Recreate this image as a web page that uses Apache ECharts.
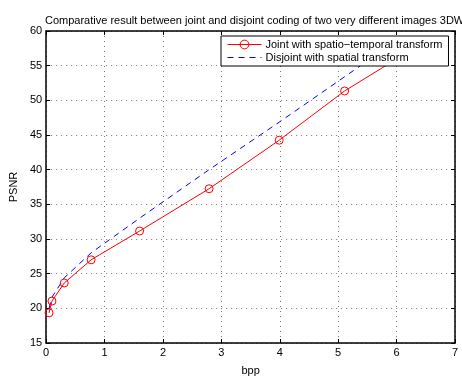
<!DOCTYPE html>
<html>
<head>
<meta charset="utf-8">
<script src="https://cdn.jsdelivr.net/npm/echarts@6/dist/echarts.min.js"></script>
<style>
  html, body { margin: 0; padding: 0; background: #fff; }
  #main { width: 462px; height: 381px; }
</style>
</head>
<body>
<div id="main"></div>
<script>
// values
let bppJoint = [0.05, 0.1, 0.31, 0.77, 1.6, 2.79, 3.99, 5.11, 6.2];
let psnrJoint = [19.35, 21.05, 23.65, 27.0, 31.15, 37.25, 44.25, 51.35, 57.0];
let bppDisjoint = [0.05, 0.1, 0.31, 0.77, 1.6, 2.79, 3.99, 5.11, 6.1];
let psnrDisjoint = [20.0, 21.6, 24.4, 28.0, 33.0, 40.0, 46.85, 53.4, 59.2];
let xTicks = [0, 1, 2, 3, 4, 5, 6, 7];
let yTicks = [15, 20, 25, 30, 35, 40, 45, 50, 55, 60];
let names = ["Joint with spatio\u2212temporal transform", "Disjoint with spatial transform"];

const font = "Liberation Sans, Arial, Helvetica, sans-serif";
let myChart = echarts.init(document.getElementById("main"));

const pairs = (xs, ys) => xs.map((x, i) => [x, ys[i]]);

const frameAxis = {
    type: "value",
    axisLine: { show: true, onZero: false, lineStyle: { color: "#000", width: 1.5 } },
    axisTick: { show: true, inside: true, length: 4, lineStyle: { color: "#000" } },
    axisLabel: { show: false },
    splitLine: { show: false }
};

let option = {
    backgroundColor: "#fff",
    animation: false,
    title: {
        text: "Comparative result between joint and disjoint coding of two very different images 3DW",
        left: 40,
        top: 10,
        textStyle: { fontFamily: font, fontSize: 11, fontWeight: "normal", color: "#000" }
    },
    grid: { left: 44, right: 7, top: 31, bottom: 28 },
    legend: {
        orient: "vertical",
        left: 221,
        top: 36,
        width: 227,
        padding: [3, 6, 3, 6],
        itemGap: 2,
        itemWidth: 34,
        itemHeight: 11,
        backgroundColor: "#fff",
        borderColor: "#000",
        borderWidth: 1,
        borderRadius: 0,
        lineStyle: { width: 1 },
        data: [{
            name: names[0],
            itemStyle: { color: "rgba(0,0,0,0)", borderColor: "#ff0000", borderWidth: 1 },
            lineStyle: { color: "#ff0000", width: 1 }
        }, {
            name: names[1],
            itemStyle: { color: "rgba(0,0,0,0)", borderColor: "rgba(0,0,0,0)", borderWidth: 0 },
            lineStyle: { color: "#0000ff", width: 1, type: [6, 5] }
        }],
        textStyle: { fontFamily: font, fontSize: 11, color: "#000", padding: [0, 0, 0, -1] }
    },
    xAxis: [{
        type: "value",
        min: xTicks[0],
        max: xTicks[xTicks.length - 1],
        interval: 1,
        name: "bpp",
        nameLocation: "middle",
        nameGap: 22,
        nameTextStyle: { fontFamily: font, fontSize: 11, color: "#000" },
        axisLine: { onZero: false, lineStyle: { color: "#000", width: 1.5 } },
        axisTick: { inside: true, length: 4, lineStyle: { color: "#000" } },
        axisLabel: { fontFamily: font, fontSize: 11, color: "#000", margin: 4 },
        splitLine: { show: true, lineStyle: { type: [1, 4], color: "#777", width: 1 } }
    }, Object.assign({}, frameAxis, {
        position: "top", min: xTicks[0], max: xTicks[xTicks.length - 1], interval: 1
    })],
    yAxis: [{
        type: "value",
        min: yTicks[0],
        max: yTicks[yTicks.length - 1],
        interval: 5,
        name: "PSNR",
        nameLocation: "middle",
        nameGap: 21,
        nameTextStyle: { fontFamily: font, fontSize: 11, color: "#000" },
        axisLine: { show: true, onZero: false, lineStyle: { color: "#000", width: 1.5 } },
        axisTick: { show: true, inside: true, length: 4, lineStyle: { color: "#000" } },
        axisLabel: { fontFamily: font, fontSize: 11, color: "#000", margin: 4 },
        splitLine: { show: true, lineStyle: { type: [1, 4], color: "#777", width: 1 } }
    }, Object.assign({}, frameAxis, {
        position: "right", min: yTicks[0], max: yTicks[yTicks.length - 1], interval: 5
    })],
    series: [{
        name: names[0],
        type: "line",
        symbol: "circle",
        symbolSize: 8,
        showAllSymbol: true,
        lineStyle: { color: "#ff0000", width: 1 },
        itemStyle: { color: "rgba(0,0,0,0)", borderColor: "#ff0000", borderWidth: 1 },
        data: pairs(bppJoint, psnrJoint),
        z: 3
    }, {
        name: names[1],
        type: "line",
        symbol: "none",
        lineStyle: { color: "#0000ff", width: 1, type: [6, 5] },
        itemStyle: { color: "#0000ff" },
        data: pairs(bppDisjoint, psnrDisjoint),
        z: 2
    }]
};
myChart.setOption(option, true);
</script>
</body>
</html>
